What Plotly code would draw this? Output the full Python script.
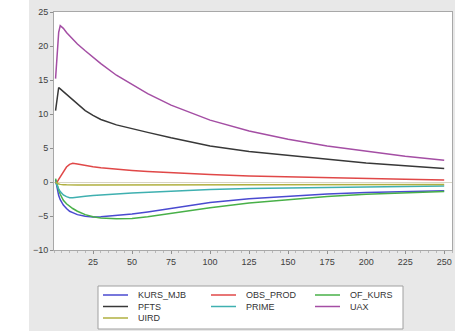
import plotly.graph_objects as go

# ---- data ----
periods = [1, 2, 3, 4, 5, 6, 8, 10, 12, 15, 20, 25, 30, 40, 50, 60, 75, 100, 125, 150, 175, 200, 225, 250]

kurs_mjb = [0.3, -1.0, -2.0, -2.6, -3.0, -3.4, -3.9, -4.3, -4.5, -4.8, -5.05, -5.15, -5.1, -4.95, -4.7, -4.4, -3.9, -3.0, -2.45, -2.05, -1.75, -1.55, -1.4, -1.3]
obs_prod = [-0.2, 0.0, 0.4, 0.8, 1.2, 1.6, 2.2, 2.6, 2.75, 2.65, 2.4, 2.25, 2.1, 1.85, 1.7, 1.55, 1.35, 1.1, 0.9, 0.75, 0.62, 0.5, 0.4, 0.3]
of_kurs = [0.5, -0.5, -1.2, -1.8, -2.3, -2.7, -3.2, -3.6, -3.9, -4.3, -4.8, -5.1, -5.3, -5.4, -5.35, -5.1, -4.6, -3.8, -3.1, -2.6, -2.15, -1.8, -1.55, -1.4]
pfts = [10.5, 12.5, 13.9, 13.7, 13.5, 13.3, 13.0, 12.6, 12.2, 11.6, 10.5, 9.8, 9.2, 8.4, 7.8, 7.3, 6.5, 5.3, 4.5, 3.9, 3.3, 2.8, 2.4, 2.0]
prime = [0.0, -0.6, -1.0, -1.4, -1.7, -1.9, -2.15, -2.3, -2.3, -2.2, -2.1, -2.0, -1.9, -1.75, -1.62, -1.5, -1.35, -1.1, -0.95, -0.85, -0.75, -0.7, -0.65, -0.6]
uax = [15.2, 19.0, 22.0, 23.0, 22.8, 22.6, 22.0, 21.5, 21.0, 20.3, 19.3, 18.3, 17.4, 15.7, 14.3, 13.0, 11.3, 9.1, 7.5, 6.3, 5.3, 4.5, 3.8, 3.2]
uird = [0.0, -0.2, -0.3, -0.35, -0.4, -0.4, -0.42, -0.45, -0.45, -0.45, -0.45, -0.45, -0.45, -0.45, -0.45, -0.43, -0.42, -0.4, -0.4, -0.38, -0.37, -0.36, -0.35, -0.35]

series_names = ["KURS_MJB", "OBS_PROD", "OF_KURS", "PFTS", "PRIME", "UAX", "UIRD"]
series_values = [kurs_mjb, obs_prod, of_kurs, pfts, prime, uax, uird]
series_colors = ["#4a4ad0", "#e04848", "#48b048", "#383838", "#3fb0b0", "#a44ea4", "#b0b040"]

x_ticks = [25, 50, 75, 100, 125, 150, 175, 200, 225, 250]
y_ticks = [-10, -5, 0, 5, 10, 15, 20, 25]

fig = go.Figure()
for name, vals, col in zip(series_names, series_values, series_colors):
    fig.add_trace(go.Scatter(x=periods, y=vals, mode="lines", name=name,
                             line=dict(color=col, width=1.5), showlegend=False))

# ---- layout ----
W, H = 455, 331
PL, PR, PT, PB = 54, 452, 12, 250  # plot area in screen pixels
pw = PR - PL
ph = PB - PT
L, T = PL, PT
R = W - L - pw
B = H - T - ph

def px_x(p):
    return (p - PL) / pw

def px_y(p):
    return (PB - p) / ph

font = dict(family="Liberation Sans, Arial, sans-serif", size=9, color="#404040")

fig.update_layout(
    width=W, height=H,
    margin=dict(l=L, r=R, t=T, b=B, pad=0),
    paper_bgcolor="#e8e8e8",
    plot_bgcolor="#ffffff",
    font=font,
    showlegend=False,
)
fig.update_xaxes(range=[0, 255], tickvals=x_ticks, ticks="outside", ticklen=3,
                 tickcolor="#909090", showline=True, linecolor="#a8a8a8", linewidth=1,
                 mirror=True, showgrid=False, zeroline=False, tickfont=font,
                 ticklabeloverflow="allow",
                 minor=dict(ticks="outside", ticklen=2, dtick=5, tickcolor="#b8b8b8"))
fig.update_yaxes(range=[-10, 25], tickvals=y_ticks, ticks="outside", ticklen=3,
                 tickcolor="#909090", showline=True, linecolor="#a8a8a8", linewidth=1,
                 mirror=True, showgrid=False, zeroline=True, zerolinecolor="#d8d4c4",
                 zerolinewidth=1, tickfont=font, ticklabeloverflow="allow")

# white strip at the far left of the picture
shapes = [
    dict(type="rect", xref="paper", yref="paper", layer="below",
         x0=px_x(-5), x1=px_x(29), y0=px_y(H + 5), y1=px_y(-5),
         fillcolor="#ffffff", line=dict(width=0)),
]

# ---- custom legend box ----
shapes.append(dict(type="rect", xref="paper", yref="paper",
                   x0=px_x(98), x1=px_x(403), y0=px_y(286), y1=px_y(329),
                   fillcolor="#ffffff", line=dict(color="#a0a0a0", width=1), layer="above"))
annotations = []
col_x = [103, 211, 315]
row_y = [295, 306.5, 318]
for i, (name, col) in enumerate(zip(series_names, series_colors)):
    cx = col_x[i % 3]
    ry = row_y[i // 3]
    shapes.append(dict(type="line", xref="paper", yref="paper",
                       x0=px_x(cx), x1=px_x(cx + 25), y0=px_y(ry), y1=px_y(ry),
                       line=dict(color=col, width=1.5), layer="above"))
    annotations.append(dict(text=name, xref="paper", yref="paper",
                            x=px_x(cx + 33), y=px_y(ry), xanchor="left", yanchor="middle",
                            showarrow=False, font=dict(family=font["family"], size=9, color="#333333")))
fig.update_layout(shapes=shapes, annotations=annotations)

fig.write_html("out.html", config={"displayModeBar": False},
               post_script="document.body.style.margin='0px';document.body.style.overflow='hidden';")
